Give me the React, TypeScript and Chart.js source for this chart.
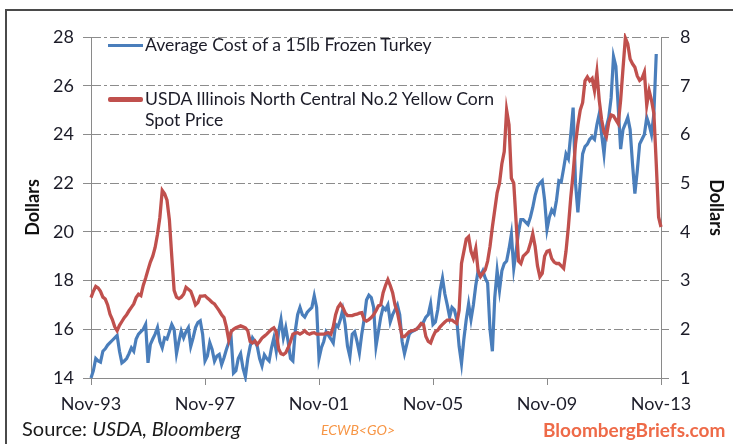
import React, { useEffect, useRef } from "react";
import { Chart, registerables } from "chart.js";

Chart.register(...registerables);

// Monthly observations Nov-93 .. Nov-13
const MONTH_NAMES = ["Jan", "Feb", "Mar", "Apr", "May", "Jun", "Jul", "Aug", "Sep", "Oct", "Nov", "Dec"];
const months: string[] = Array.from({ length: 241 }, (_, i) => {
  const m = (10 + i) % 12;
  const y = (93 + Math.floor((10 + i) / 12)) % 100;
  return MONTH_NAMES[m] + "-" + String(y).padStart(2, "0");
});

const xTickLabels = ["Nov-93", "Nov-97", "Nov-01", "Nov-05", "Nov-09", "Nov-13"];
const leftTicks = [14, 16, 18, 20, 22, 24, 26, 28];
const rightTicks = [1, 2, 3, 4, 5, 6, 7, 8];

// Average cost of a 15lb frozen turkey (left axis, dollars)
const turkeyCost: (number | null)[] = [
  14.0, 14.3, 14.8, 14.7, 14.65, 15.1, 15.2, 15.35, 15.45, 15.55, 15.65, 15.75,
  15.1, 14.62, 14.7, 14.8, 15.0, 15.24, 15.1, 15.6, 15.8, 15.9, 16.0, 16.2,
  14.62, 15.38, 15.6, 15.8, 16.07, 15.5, 15.24, 15.65, 15.6, 15.9, 16.2, 16.0,
  15.0, 15.5, 15.93, 15.65, 15.9, 16.07, 15.3, 15.65, 16.07, 16.28, 16.35, 15.8,
  14.7, 14.9, 15.45, 15.17, 14.69, 14.9, 14.97, 14.55, 14.83, 15.17, 15.45, 15.65,
  14.2, 14.3, 14.8, 15.0, 14.4, 14.05, 14.8, 15.3, 15.65, 15.5, 15.3, 14.8,
  14.5, 14.95, 14.8, 14.7, 15.24, 15.65, 15.1, 15.9, 16.4, 15.65, 16.07, 15.5,
  14.8, 14.7, 15.93, 16.6, 16.9, 16.6, 16.5, 16.69, 16.8, 16.9, 17.38, 16.9,
  14.8, 15.24, 15.5, 15.9, 15.75, 15.6, 15.44, 16.2, 16.1, 16.4, 16.8, 16.2,
  15.3, 14.88, 15.8, 15.9, 15.5, 15.03, 15.8, 16.4, 17.2, 17.4, 17.3, 16.9,
  15.3, 15.9, 16.5, 16.9, 16.8, 17.0, 16.3, 16.6, 16.8, 17.0, 16.6, 15.5,
  15.0, 15.4, 15.8, 15.9, 15.95, 16.0, 16.1, 16.2, 16.3, 16.5, 16.6, 17.04,
  16.2, 16.3, 16.8, 17.6, 18.1, 17.45, 17.0, 16.5, 16.9, 16.8, 16.4, 15.3,
  14.6, 15.6, 16.4, 17.04, 16.4, 17.0, 17.8, 18.4, 18.2, 18.4, 18.1, 17.9,
  16.0, 15.1, 17.3, 18.4, 17.6, 18.4, 18.7, 18.8, 19.3, 19.9, 18.5, 19.2,
  20.0, 20.5, 20.5, 20.4, 20.3, 20.6, 21.0, 21.5, 21.84, 22.0, 22.1, 21.3,
  20.1, 20.6, 20.9, 20.75, 21.3, 22.1, 22.05, 22.6, 23.2, 23.0, 24.0, 25.1,
  22.0, 20.8, 22.0, 23.2, 23.5, 23.6, 23.8, 23.9, 23.8, 24.4, 24.85, 24.0,
  23.2, 24.3, 24.7, 25.5, 27.2, 26.8, 25.1, 23.4, 24.2, 24.44, 24.7, 24.2,
  22.8, 21.57, 22.5, 23.6, 23.8, 24.0, 24.7, 24.4, 24.0, 24.85, 27.3, null,
  null,
];

// USDA Illinois North Central No.2 yellow corn spot price (right axis, dollars)
const cornPrice: number[] = [
  2.65, 2.78, 2.88, 2.85, 2.78, 2.66, 2.62, 2.5, 2.31, 2.2, 2.05, 1.97,
  2.08, 2.16, 2.24, 2.3, 2.38, 2.45, 2.52, 2.65, 2.72, 2.69, 2.9, 3.05,
  3.22, 3.38, 3.5, 3.68, 3.95, 4.3, 4.85, 4.78, 4.65, 4.25, 3.5, 2.8,
  2.66, 2.63, 2.66, 2.72, 2.86, 2.82, 2.78, 2.65, 2.5, 2.55, 2.68, 2.68,
  2.69, 2.64, 2.6, 2.55, 2.52, 2.45, 2.38, 2.3, 2.24, 2.05, 1.78, 1.95,
  2.0, 2.03, 2.05, 2.07, 2.05, 2.03, 1.97, 1.75, 1.72, 1.76, 1.69, 1.75,
  1.82, 1.86, 1.9, 1.95, 2.0, 2.03, 1.95, 1.6, 1.5, 1.48, 1.52, 1.62,
  1.75, 1.9, 1.92, 1.93, 1.9, 1.93, 1.97, 1.92, 1.9, 1.92, 1.93, 1.9,
  1.9, 1.9, 1.9, 1.92, 1.93, 1.9, 2.05, 2.3, 2.45, 2.52, 2.45, 2.34,
  2.28, 2.28, 2.28, 2.3, 2.31, 2.33, 2.34, 2.2, 2.17, 2.2, 2.24, 2.3,
  2.38, 2.48, 2.5, 2.75, 2.9, 3.02, 2.9, 2.75, 2.5, 2.35, 2.1, 1.85,
  1.85, 1.9, 1.95, 1.97, 1.98, 2.0, 2.05, 2.12, 2.1, 1.85, 1.75, 1.72,
  1.85, 1.95, 1.98, 2.05, 2.1, 2.15, 2.19, 2.19, 2.19, 2.15, 2.12, 2.39,
  3.35, 3.6, 3.85, 3.9, 3.6, 3.46, 3.66, 3.2, 3.08, 3.15, 3.22, 3.4,
  3.7, 4.1, 4.45, 4.8, 5.0, 5.4, 5.65, 6.5, 6.2, 5.1, 5.0, 4.2,
  3.4, 3.35, 3.5, 3.55, 3.6, 3.76, 3.96, 3.7, 3.3, 3.08, 3.15, 3.5,
  3.6, 3.62, 3.45, 3.38, 3.35, 3.35, 3.3, 3.25, 3.6, 4.1, 4.7, 5.2,
  5.8, 6.2, 6.5, 6.65, 7.1, 7.18, 7.1, 7.15, 6.9, 7.28, 6.7, 6.3,
  6.05, 5.95, 6.25, 6.4, 6.38, 6.3, 6.22, 6.7, 7.35, 7.98, 7.86, 7.55,
  7.45, 7.38, 7.2, 7.11, 7.15, 7.28, 6.6, 6.9, 6.7, 6.43, 5.4, 4.3,
  4.1,
];

const BLUE = "#4a7ebb";
const RED = "#c0504d";
const GRID = "#8c8c8c";
const AXIS = "#8a8a8a";
const TEXT = "#1c1c28";
const FONT = "Lato, 'Open Sans', sans-serif";

export default function App() {
  const canvasRef = useRef<HTMLCanvasElement | null>(null);

  useEffect(() => {
    const canvas = canvasRef.current;
    if (!canvas) return;
    const chart = new Chart(canvas, {
      type: "line",
      data: {
        labels: months,
        datasets: [
          {
            label: "USDA Illinois North Central No.2 Yellow Corn Spot Price",
            data: cornPrice,
            yAxisID: "y1",
            borderColor: RED,
            backgroundColor: RED,
            borderWidth: 3.3,
            pointRadius: 0,
            tension: 0,
            order: 0,
            clip: 4,
          },
          {
            label: "Average Cost of a 15lb Frozen Turkey",
            data: turkeyCost,
            yAxisID: "y",
            borderColor: BLUE,
            backgroundColor: BLUE,
            borderWidth: 3.2,
            pointRadius: 0,
            tension: 0,
            order: 1,
            spanGaps: false,
            clip: 4,
          },
        ],
      },
      options: {
        animation: false,
        responsive: false,
        maintainAspectRatio: false,
        events: [],
        layout: { padding: { top: 37, left: 0, right: 0, bottom: 0 } },
        plugins: {
          legend: { display: false },
          tooltip: { enabled: false },
          title: { display: false },
        },
        scales: {
          x: {
            type: "category",
            offset: false,
            afterFit: (s: any) => {
              s.height = 66;
            },
            grid: {
              display: true,
              drawOnChartArea: false,
              drawTicks: true,
              tickLength: 7,
              color: (ctx: any) =>
                xTickLabels.includes(months[ctx.index]) ? AXIS : "rgba(0,0,0,0)",
            },
            border: { display: true, color: AXIS, width: 1 },
            ticks: {
              autoSkip: false,
              maxRotation: 0,
              minRotation: 0,
              padding: 8,
              color: TEXT,
              font: { family: FONT, size: 18 },
              callback: (_v: any, i: number) =>
                xTickLabels.includes(months[i]) ? months[i] : "",
            },
          },
          y: {
            type: "linear",
            position: "left",
            min: leftTicks[0],
            max: leftTicks[leftTicks.length - 1],
            afterFit: (s: any) => {
              s.width = 91;
            },
            afterBuildTicks: (s: any) => {
              s.ticks = leftTicks.map((v) => ({ value: v }));
            },
            grid: {
              display: true,
              drawOnChartArea: true,
              drawTicks: true,
              tickLength: 8,
              color: GRID,
              lineWidth: 1,
            },
            border: { display: true, color: AXIS, width: 1, dash: [9, 3, 3, 3] },
            ticks: {
              padding: 9,
              color: TEXT,
              font: { family: FONT, size: 18 },
            },
            title: {
              display: true,
              text: "Dollars",
              color: "#111",
              font: { family: FONT, size: 18, weight: "bold" },
              padding: { top: 22, bottom: 0 },
            },
          },
          y1: {
            type: "linear",
            position: "right",
            min: rightTicks[0],
            max: rightTicks[rightTicks.length - 1],
            afterFit: (s: any) => {
              s.width = 72;
            },
            afterBuildTicks: (s: any) => {
              s.ticks = rightTicks.map((v) => ({ value: v }));
            },
            grid: {
              display: true,
              drawOnChartArea: false,
              drawTicks: true,
              tickLength: 8,
              color: AXIS,
            },
            border: { display: true, color: AXIS, width: 1 },
            ticks: {
              padding: 11,
              color: TEXT,
              font: { family: FONT, size: 18 },
            },
            title: {
              display: true,
              text: "Dollars",
              color: "#111",
              font: { family: FONT, size: 18, weight: "bold" },
              padding: { top: 6, bottom: 0 },
            },
          },
        },
      },
    });
    return () => chart.destroy();
  }, []);

  const legendText: React.CSSProperties = {
    position: "absolute",
    fontFamily: FONT,
    fontSize: 17.6,
    lineHeight: "22px",
    color: TEXT,
    whiteSpace: "nowrap",
  };

  return (
    <div
      style={{
        position: "absolute",
        left: 0,
        top: 0,
        width: 733,
        height: 444,
        overflow: "hidden",
        background: "#fff",
      }}
    >
      <canvas
        ref={canvasRef}
        width={733}
        height={444}
        style={{ position: "absolute", left: 0, top: 0, width: 733, height: 444 }}
      />
      {/* outer frame */}
      <div style={{ position: "absolute", left: 5, top: 9, width: 728, height: 2, background: "#4a4a4a" }} />
      <div style={{ position: "absolute", left: 5, top: 9, width: 2, height: 435, background: "#4a4a4a" }} />

      {/* legend */}
      <div style={{ position: "absolute", left: 108, top: 43.5, width: 35, height: 3, background: BLUE }} />
      <div style={{ ...legendText, left: 145, top: 34 }}>Average Cost of a 15lb Frozen Turkey</div>
      <div style={{ position: "absolute", left: 108, top: 97, width: 35, height: 4.5, background: RED, borderRadius: 2 }} />
      <div style={{ ...legendText, left: 145, top: 88 }}>USDA Illinois North Central No.2 Yellow Corn</div>
      <div style={{ ...legendText, left: 145, top: 109 }}>Spot Price</div>

      {/* footer */}
      <div
        style={{
          position: "absolute",
          left: 22,
          top: 416,
          fontFamily: FONT,
          fontSize: 20,
          lineHeight: "24px",
          color: "#1a1a1a",
          whiteSpace: "nowrap",
        }}
      >
        Source: <span style={{ fontStyle: "italic" }}>USDA, Bloomberg</span>
      </div>
      <div
        style={{
          position: "absolute",
          left: 321,
          top: 421,
          fontFamily: FONT,
          fontSize: 14,
          lineHeight: "18px",
          fontStyle: "italic",
          color: "#f79646",
          whiteSpace: "nowrap",
        }}
      >
        ECWB&lt;GO&gt;
      </div>
      <div
        style={{
          position: "absolute",
          left: 543,
          top: 418,
          fontFamily: FONT,
          fontSize: 19,
          lineHeight: "24px",
          fontWeight: "bold",
          color: "#ee6a48",
          whiteSpace: "nowrap",
        }}
      >
        BloombergBriefs.com
      </div>
    </div>
  );
}
